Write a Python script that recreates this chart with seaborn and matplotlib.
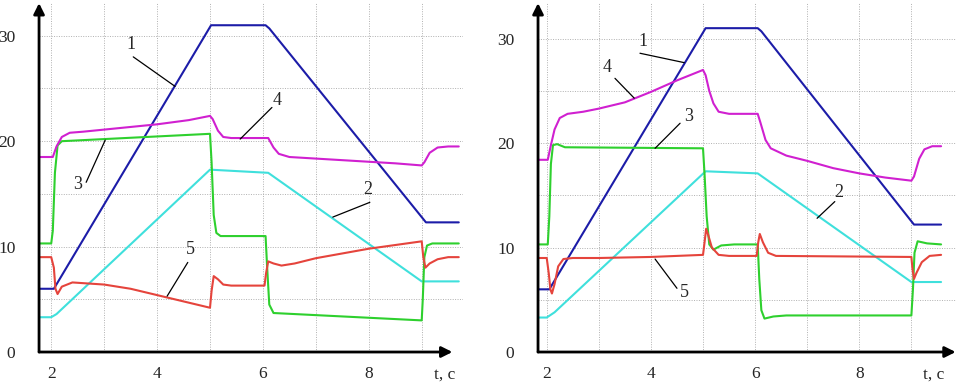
import seaborn as sns
import matplotlib.pyplot as plt
import pandas as pd
from matplotlib.transforms import blended_transform_factory

# ---- data: (t, value) points ----
# left panel
left_1 = [(1.77, 6.0), (2.05, 6.0), (5.02, 31.0), (6.05, 31.0), (6.12, 30.7), (9.08, 12.3), (9.70, 12.3)]
left_2 = [(1.77, 3.3), (2.0, 3.3), (2.1, 3.6), (5.0, 17.3), (6.1, 17.0), (9.0, 6.7), (9.70, 6.7)]
left_3 = [(1.77, 10.3), (2.0, 10.3), (2.03, 11.5), (2.07, 17.0), (2.12, 19.6), (2.2, 20.0),
          (5.0, 20.7), (5.03, 18.0), (5.07, 13.0), (5.12, 11.3), (5.2, 11.0), (6.05, 11.0),
          (6.08, 8.0), (6.12, 4.5), (6.2, 3.7), (9.0, 3.0), (9.02, 5.0), (9.05, 9.0),
          (9.1, 10.1), (9.2, 10.3), (9.70, 10.3)]
left_4 = [(1.77, 18.5), (2.03, 18.5), (2.1, 19.5), (2.2, 20.4), (2.35, 20.8), (2.6, 20.9),
          (3.0, 21.1), (4.0, 21.6), (4.6, 22.0), (5.0, 22.4), (5.05, 22.1), (5.15, 21.0),
          (5.25, 20.4), (5.4, 20.3), (6.1, 20.3), (6.2, 19.4), (6.3, 18.8), (6.5, 18.5),
          (7.5, 18.2), (8.5, 17.9), (9.0, 17.7), (9.05, 18.0), (9.15, 18.9), (9.3, 19.4),
          (9.5, 19.5), (9.70, 19.5)]
left_5 = [(1.77, 9.0), (2.0, 9.0), (2.05, 8.0), (2.08, 6.0), (2.12, 5.5), (2.2, 6.2),
          (2.4, 6.6), (3.0, 6.4), (3.5, 6.0), (4.0, 5.4), (4.5, 4.8), (5.0, 4.2),
          (5.03, 5.8), (5.07, 7.2), (5.15, 6.9), (5.25, 6.4), (5.4, 6.3), (6.03, 6.3),
          (6.06, 7.5), (6.1, 8.6), (6.2, 8.4), (6.35, 8.2), (6.6, 8.4), (7.0, 8.9),
          (8.0, 9.8), (9.0, 10.5), (9.03, 9.0), (9.07, 8.0), (9.15, 8.4), (9.3, 8.8),
          (9.5, 9.0), (9.70, 9.0)]

# right panel
right_1 = [(1.83, 6.0), (2.05, 6.0), (5.05, 31.0), (6.05, 31.0), (6.12, 30.7), (9.05, 12.2), (9.57, 12.2)]
right_2 = [(1.83, 3.3), (2.0, 3.3), (2.15, 3.8), (5.05, 17.3), (6.05, 17.1), (9.0, 6.7), (9.57, 6.7)]
right_3 = [(1.83, 10.3), (2.02, 10.3), (2.05, 13.0), (2.08, 18.0), (2.12, 19.8), (2.2, 19.9),
           (2.35, 19.6), (5.0, 19.5), (5.03, 17.0), (5.07, 13.0), (5.12, 10.3), (5.2, 9.8),
           (5.35, 10.2), (5.6, 10.3), (6.05, 10.3), (6.08, 7.0), (6.12, 4.0), (6.18, 3.2),
           (6.35, 3.4), (6.6, 3.5), (9.0, 3.5), (9.03, 6.0), (9.06, 9.5), (9.12, 10.6),
           (9.3, 10.4), (9.57, 10.3)]
right_4 = [(1.83, 18.4), (2.02, 18.4), (2.08, 19.8), (2.15, 21.3), (2.25, 22.4), (2.4, 22.8),
           (2.7, 23.0), (3.0, 23.3), (3.5, 23.9), (4.0, 24.9), (4.5, 26.0), (5.0, 27.0),
           (5.05, 26.5), (5.12, 25.0), (5.2, 23.8), (5.3, 23.0), (5.5, 22.8), (6.05, 22.8),
           (6.1, 22.0), (6.2, 20.3), (6.3, 19.5), (6.6, 18.8), (7.0, 18.3), (7.5, 17.6),
           (8.0, 17.1), (8.5, 16.7), (9.0, 16.4), (9.05, 16.8), (9.15, 18.5), (9.25, 19.4),
           (9.4, 19.7), (9.57, 19.7)]
right_5 = [(1.83, 9.0), (2.0, 9.0), (2.04, 7.5), (2.07, 6.0), (2.1, 5.6), (2.15, 6.5),
           (2.22, 8.2), (2.32, 8.9), (2.5, 9.0), (3.0, 9.0), (4.0, 9.1), (5.0, 9.3),
           (5.03, 10.5), (5.06, 11.8), (5.1, 11.2), (5.17, 10.0), (5.3, 9.3), (5.5, 9.2),
           (6.03, 9.2), (6.06, 10.5), (6.09, 11.3), (6.15, 10.5), (6.25, 9.5), (6.4, 9.2),
           (9.0, 9.1), (9.02, 8.0), (9.05, 7.0), (9.1, 7.6), (9.2, 8.6), (9.35, 9.2),
           (9.57, 9.3)]

curve_names = ['1', '2', '3', '4', '5']
curve_colors = ['#1c1ca8', '#3fe0dc', '#2ed02e', '#d020d0', '#e5443c']

x_ticks = [2, 4, 6, 8]
y_ticks = [0, 10, 20, 30]


def to_frame(series):
    rows = []
    for name, pts in zip(curve_names, series):
        for t, v in pts:
            rows.append({'curve': name, 't': t, 'v': v})
    return pd.DataFrame(rows)


left_df = to_frame([left_1, left_2, left_3, left_4, left_5])
right_df = to_frame([right_1, right_2, right_3, right_4, right_5])

sns.set_style('white')
plt.rcParams['font.family'] = ['Liberation Serif', 'DejaVu Serif']

fig = plt.figure(figsize=(9.57, 3.83), dpi=100)
ax_l = fig.add_axes([0.0408, 0.0809, 0.443, 0.911])
ax_r = fig.add_axes([0.5622, 0.0809, 0.4364, 0.911])

# panel layout: xlim, ylim, arrow end, labels (text pos, line start, line end)
panels = [
    (ax_l, left_df, (1.77, 9.78), (0, 33.1), 9.58,
     [('1', (3.51, 29.2), (3.55, 28.0), (4.34, 25.2)),
      ('4', (6.26, 23.9), (6.17, 23.2), (5.57, 20.2)),
      ('3', (2.49, 15.9), (2.66, 16.1), (3.02, 20.1)),
      ('2', (7.98, 15.4), (8.02, 14.2), (7.32, 12.8)),
      ('5', (4.62, 9.7), (4.58, 8.5), (4.19, 5.3))]),
    (ax_r, right_df, (1.833, 9.85), (0, 33.4), 9.85,
     [('1', (3.85, 29.7), (3.79, 28.6), (4.64, 27.7)),
      ('4', (3.16, 27.2), (3.31, 26.2), (3.68, 24.3)),
      ('3', (4.73, 22.5), (4.56, 21.9), (4.08, 19.5)),
      ('2', (7.61, 15.3), (7.53, 14.4), (7.19, 12.8)),
      ('5', (4.64, 5.7), (4.50, 6.1), (4.08, 8.9))]),
]

for ax, df, xlim, ylim, x_end, labels in panels:
    for t in range(2, 10):
        ax.axvline(t, color='#b0b0b0', lw=0.7, ls=(0, (1, 1.5)), zorder=0)
    for y in range(5, 35, 5):
        ax.axhline(y, color='#b0b0b0', lw=0.7, ls=(0, (1, 1.5)), zorder=0)

    sns.lineplot(data=df, x='t', y='v', hue='curve', palette=curve_colors,
                 sort=False, estimator=None, legend=False, linewidth=1.5, ax=ax)

    ax.set_xlim(*xlim)
    ax.set_ylim(*ylim)
    for s in ax.spines.values():
        s.set_visible(False)
    ax.set_xlabel('')
    ax.set_ylabel('')
    ax.set_xticks(x_ticks)
    ax.set_yticks(y_ticks)
    ax.tick_params(axis='x', length=0, pad=10, labelsize=12.5)
    ax.tick_params(axis='y', length=0, pad=17, labelsize=12.5)

    # axes with arrows
    ax.annotate('', xy=(xlim[0], ylim[1]), xytext=(xlim[0], 0), annotation_clip=False,
                arrowprops=dict(arrowstyle='-|>', lw=2, color='black', mutation_scale=16,
                                shrinkA=0, shrinkB=0))
    ax.annotate('', xy=(x_end, 0), xytext=(xlim[0], 0), annotation_clip=False,
                arrowprops=dict(arrowstyle='-|>', lw=2, color='black', mutation_scale=16,
                                shrinkA=0, shrinkB=0))

    trans = blended_transform_factory(ax.transData, ax.transAxes)
    ax.text(9.43, -0.065, 't, c', transform=trans, ha='center', va='center', fontsize=12.5)

    for lab, txt_pos, p0, p1 in labels:
        ax.text(*txt_pos, lab, ha='center', va='center', fontsize=13)
        ax.annotate('', xy=p1, xytext=p0,
                    arrowprops=dict(arrowstyle='-', lw=0.9, color='black',
                                    shrinkA=0, shrinkB=0))

plt.savefig('out.png', dpi=100)
